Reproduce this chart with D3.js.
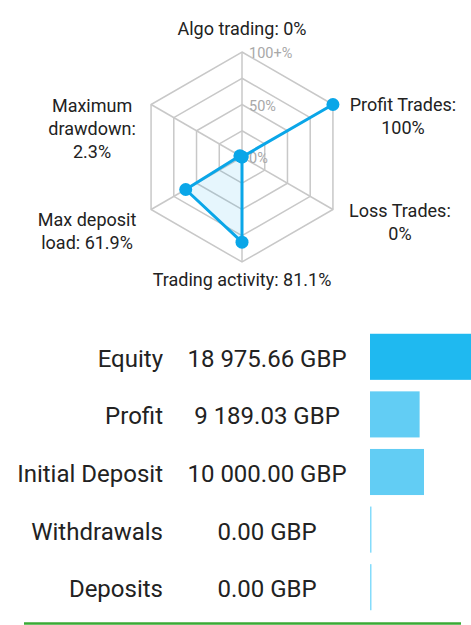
<!DOCTYPE html>
<html>
<head>
<meta charset="utf-8">
<script src="https://cdn.jsdelivr.net/npm/d3@7"></script>
<style>
  body { margin: 0; background: #fff; }
  svg { display: block; font-family: Roboto, sans-serif; }
</style>
</head>
<body>
<script>
var width = 471,
    height = 625;

// radar data
var axisNames = ["Algo trading", "Profit Trades", "Loss Trades", "Trading activity", "Max deposit load", "Maximum drawdown"];
var axisLines = [["Algo trading: 0%"], ["Profit Trades:", "100%"], ["Loss Trades:", "0%"], ["Trading activity: 81.1%"], ["Max deposit", "load: 61.9%"], ["Maximum", "drawdown:", "2.3%"]];
var axisValues = [0, 100, 0, 81.1, 61.9, 2.3];
var gridLevels = [25, 50, 75, 100];
var tickLevels = [0, 50, 100];
var tickLabels = ["0%", "50%", "100+%"];

// balance data
var balanceNames = ["Equity", "Profit", "Initial Deposit", "Withdrawals", "Deposits"];
var balanceValues = [18975.66, 9189.03, 10000.00, 0.00, 0.00];
var balanceText = ["18 975.66 GBP", "9 189.03 GBP", "10 000.00 GBP", "0.00 GBP", "0.00 GBP"];

var svg = d3.select("body")
        .append("svg")
        .attr("width", width)
        .attr("height", height);

var cx = 242, cy = 157, R = 105;
var rScale = d3.scaleLinear().domain([0, 100]).range([0, R]);
var angle = function (i) {
    return -Math.PI / 2 + i * Math.PI / 3;
};
var pt = function (i, v) {
    return [cx + rScale(v) * Math.cos(angle(i)), cy + rScale(v) * Math.sin(angle(i))];
};

var radar = svg.append("g");

// grid hexagons
radar.selectAll("polygon.grid")
        .data(gridLevels)
        .enter()
        .append("polygon")
        .attr("class", "grid")
        .attr("points", function (lv) {
            return axisNames.map(function (d, i) { return pt(i, lv).join(","); }).join(" ");
        })
        .attr("fill", "none")
        .attr("stroke", "#c8c8c8")
        .attr("stroke-width", 1.5);

// spokes
radar.selectAll("line.spoke")
        .data(axisNames)
        .enter()
        .append("line")
        .attr("class", "spoke")
        .attr("x1", cx)
        .attr("y1", cy)
        .attr("x2", function (d, i) { return pt(i, 100)[0]; })
        .attr("y2", function (d, i) { return pt(i, 100)[1]; })
        .attr("stroke", "#c8c8c8")
        .attr("stroke-width", 1.5);

// tick labels
radar.selectAll("text.tick")
        .data(tickLevels)
        .enter()
        .append("text")
        .attr("class", "tick")
        .attr("x", cx + 7)
        .attr("y", function (d) { return cy - rScale(d) + 6; })
        .attr("font-size", 14.5)
        .attr("fill", "#a8a8a8")
        .text(function (d, i) { return tickLabels[i]; });

// value polygon
var valuePts = axisValues.map(function (v, i) { return pt(i, v); });
radar.append("polygon")
        .attr("points", valuePts.map(function (p) { return p.join(","); }).join(" "))
        .attr("fill", "#0aa6e8")
        .attr("fill-opacity", 0.1)
        .attr("stroke", "#0aa6e8")
        .attr("stroke-width", 3)
        .attr("stroke-linejoin", "round");

radar.selectAll("circle.pt")
        .data(valuePts)
        .enter()
        .append("circle")
        .attr("class", "pt")
        .attr("cx", function (d) { return d[0]; })
        .attr("cy", function (d) { return d[1]; })
        .attr("r", 6.5)
        .attr("fill", "#0aa6e8");

// axis labels, placed near the outer vertex
var labelOffset = [[0, -17], [70, 6.5], [67, 7.5], [0, 24], [-64, 16.5], [-59, 7]];
var lineH = 23;
radar.selectAll("text.axis")
        .data(axisLines)
        .enter()
        .append("text")
        .attr("class", "axis")
        .attr("text-anchor", "middle")
        .attr("font-size", 18)
        .attr("fill", "#222")
        .attr("transform", function (d, i) {
            var p = pt(i, 100);
            return "translate(" + (p[0] + labelOffset[i][0]) + "," + (p[1] + labelOffset[i][1]) + ")";
        })
        .each(function (d) {
            var t = d3.select(this);
            d.forEach(function (line, j) {
                t.append("tspan")
                        .attr("x", 0)
                        .attr("y", j * lineH)
                        .text(line);
            });
        });

// balance bars
var rowY = d3.scaleBand().domain(balanceNames).range([328, 616]).paddingInner(0.2).paddingOuter(0.1);
var xBar = d3.scaleLinear().domain([0, 10000]).range([0, 54]);
var barX = 370;

var rows = svg.append("g")
        .selectAll("g.row")
        .data(balanceNames)
        .enter()
        .append("g")
        .attr("class", "row")
        .attr("transform", function (d) { return "translate(0," + rowY(d) + ")"; });

rows.append("rect")
        .attr("x", barX)
        .attr("y", 0)
        .attr("width", function (d, i) { return Math.max(1.5, xBar(balanceValues[i])); })
        .attr("height", rowY.bandwidth())
        .attr("fill", function (d, i) {
            if (i === 0) return "#1fb9f0";
            return balanceValues[i] > 0 ? "#62cdf4" : "#85dcfb";
        });

rows.append("text")
        .attr("x", 163)
        .attr("y", rowY.bandwidth() / 2 + 10)
        .attr("text-anchor", "end")
        .attr("font-size", 24)
        .attr("fill", "#222")
        .text(function (d) { return d; });

rows.append("text")
        .attr("x", 267)
        .attr("y", rowY.bandwidth() / 2 + 10)
        .attr("text-anchor", "middle")
        .attr("font-size", 24)
        .attr("fill", "#222")
        .text(function (d, i) { return balanceText[i]; });

svg.append("line")
        .attr("x1", 24)
        .attr("x2", 461)
        .attr("y1", 623.5)
        .attr("y2", 623.5)
        .attr("stroke", "#3aaa35")
        .attr("stroke-width", 2.5);
</script>
</body>
</html>
